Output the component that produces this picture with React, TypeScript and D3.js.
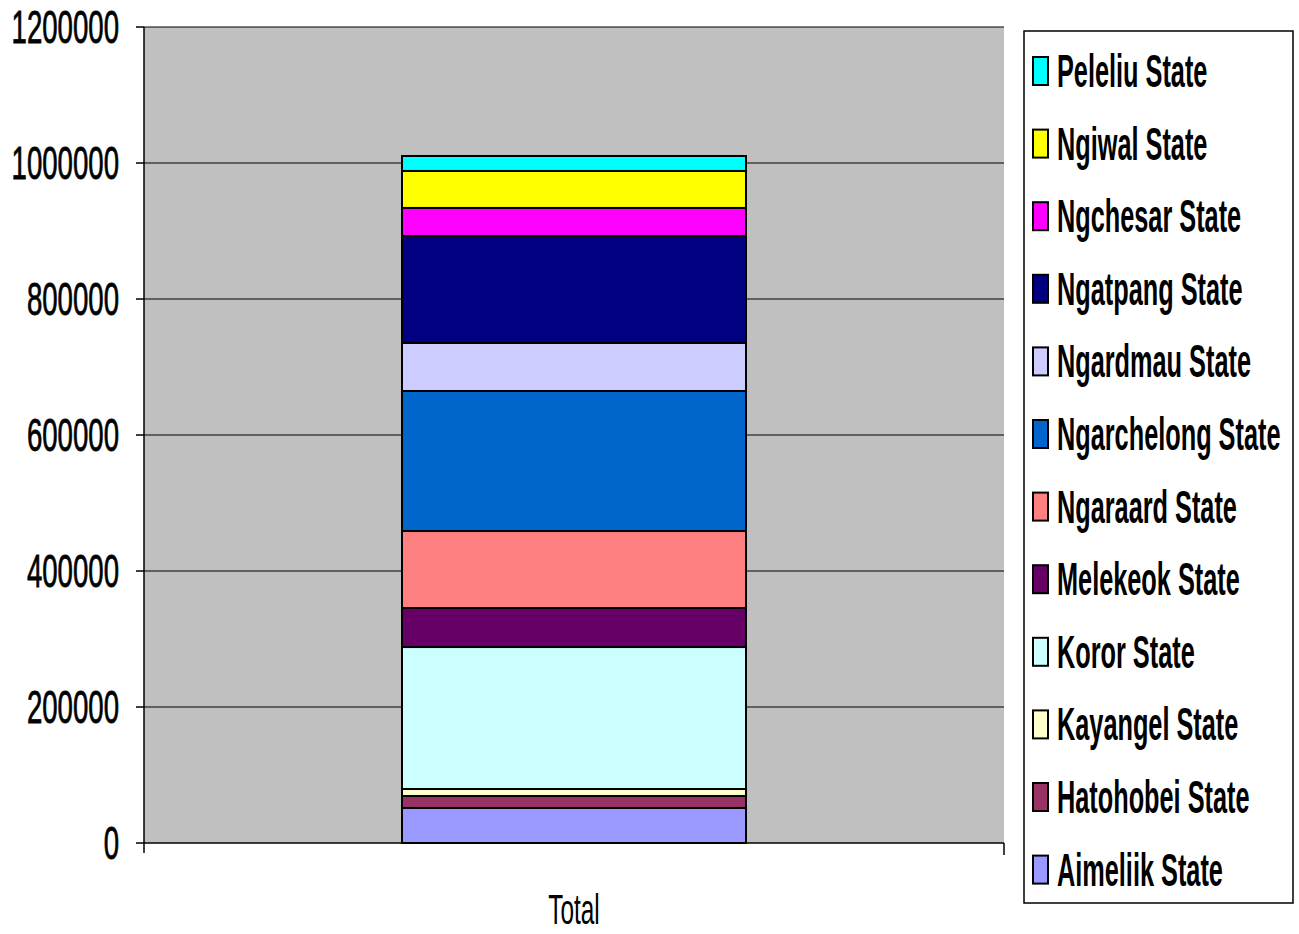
import React from "react";
import * as d3 from "d3";

// State labels, bottom of the stack first
const states = [
  "Aimeliik State",
  "Hatohobei State",
  "Kayangel State",
  "Koror State",
  "Melekeok State",
  "Ngaraard State",
  "Ngarchelong State",
  "Ngardmau State",
  "Ngatpang State",
  "Ngchesar State",
  "Ngiwal State",
  "Peleliu State",
];

const values = [
  51500, 17600, 10300, 208800, 57400, 113200, 205900, 70600, 157400, 41200,
  54400, 22000,
];

const colors = [
  "#9999FF",
  "#993366",
  "#FFFFCC",
  "#CCFFFF",
  "#660066",
  "#FF8080",
  "#0066CC",
  "#CCCCFF",
  "#000080",
  "#FF00FF",
  "#FFFF00",
  "#00FFFF",
];

const categories = ["Total"];
const yTicks = [0, 200000, 400000, 600000, 800000, 1000000, 1200000];

const W = 1299;
const H = 934;
const plot = { left: 144, right: 1004, top: 27, bottom: 843 };
const SX = 0.55; // horizontal squeeze for the condensed lettering

export default function App() {
  const y = d3
    .scaleLinear()
    .domain([0, 1200000])
    .range([plot.bottom, plot.top]);
  const x = d3
    .scaleBand<string>()
    .domain(categories)
    .range([plot.left, plot.right])
    .paddingInner(0.6)
    .paddingOuter(0.3);

  const row: Record<string, number> = {};
  states.forEach((s, i) => (row[s] = values[i]));
  const stacked = d3.stack<Record<string, number>>().keys(states)([row]);

  const legend = { x: 1024, y: 31, w: 269, h: 872 };
  const itemStep = 72.6;
  const firstItem = 71;
  const legendOrder = states.map((_, i) => i).reverse();

  return (
    <svg
      width={W}
      height={H}
      style={{ position: "absolute", left: 0, top: 0, background: "#fff" }}
    >
      <rect x={0} y={0} width={W} height={H} fill="#fff" />
      {/* plot area */}
      <rect
        x={plot.left}
        y={plot.top}
        width={plot.right - plot.left}
        height={plot.bottom - plot.top}
        fill="#C0C0C0"
      />
      {/* gridlines */}
      {yTicks.slice(1).map((t) => (
        <line
          key={"g" + t}
          x1={plot.left}
          x2={plot.right}
          y1={y(t)}
          y2={y(t)}
          stroke="#000"
          strokeWidth={1.2}
        />
      ))}
      {/* stacked bar */}
      {stacked.map((layer, i) => {
        const d = layer[0];
        const cat = categories[0];
        return (
          <rect
            key={states[i]}
            x={x(cat)}
            width={x.bandwidth()}
            y={y(d[1])}
            height={y(d[0]) - y(d[1])}
            fill={colors[i]}
            stroke="#000"
            strokeWidth={2}
          />
        );
      })}
      {/* axes */}
      <line
        x1={plot.left}
        x2={plot.left}
        y1={plot.top}
        y2={plot.bottom + 10}
        stroke="#000"
        strokeWidth={1.5}
      />
      <line
        x1={plot.left}
        x2={plot.right}
        y1={plot.bottom}
        y2={plot.bottom}
        stroke="#000"
        strokeWidth={1.5}
      />
      <line
        x1={plot.right}
        x2={plot.right}
        y1={plot.bottom}
        y2={plot.bottom + 12}
        stroke="#000"
        strokeWidth={1.5}
      />
      {yTicks.map((t) => (
        <g key={"t" + t}>
          <line
            x1={plot.left - 8}
            x2={plot.left}
            y1={y(t)}
            y2={y(t)}
            stroke="#000"
            strokeWidth={1.5}
          />
          <text
            transform={`translate(119,${y(t) + 16}) scale(0.6,1)`}
            textAnchor="end"
            fontFamily="'Liberation Sans', Arial, sans-serif"
            fontSize={46}
            fill="#000"
            stroke="#000"
            strokeWidth={0.8}
          >
            {t}
          </text>
        </g>
      ))}
      {categories.map((c) => (
        <text
          key={c}
          transform={`translate(${(x(c) as number) + x.bandwidth() / 2},${924}) scale(0.58,1)`}
          textAnchor="middle"
          fontFamily="'Liberation Sans', Arial, sans-serif"
          fontSize={42}
          fill="#000"
        >
          {c}
        </text>
      ))}
      {/* legend */}
      <rect
        x={legend.x}
        y={legend.y}
        width={legend.w}
        height={legend.h}
        fill="#fff"
        stroke="#000"
        strokeWidth={1.5}
      />
      {legendOrder.map((idx, k) => {
        const cy = firstItem + k * itemStep;
        return (
          <g key={"l" + idx}>
            <rect
              x={1033}
              y={cy - 14}
              width={15}
              height={28}
              fill={colors[idx]}
              stroke="#000"
              strokeWidth={2}
            />
            <text
              transform={`translate(1057,${cy + 16}) scale(${SX},1)`}
              fontFamily="'Liberation Sans', Arial, sans-serif"
              fontWeight="bold"
              fontSize={46}
              fill="#000"
            >
              {states[idx]}
            </text>
          </g>
        );
      })}
    </svg>
  );
}
